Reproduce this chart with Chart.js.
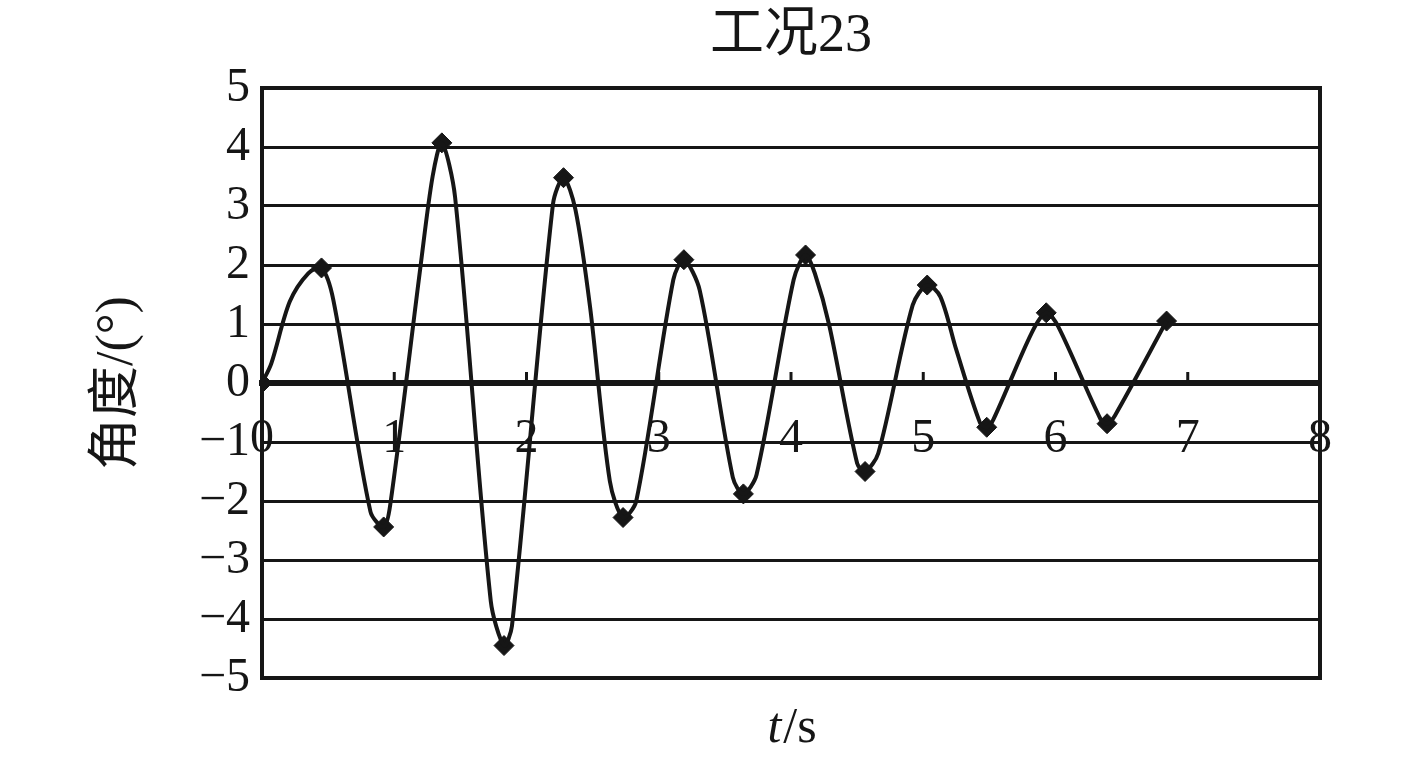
<!DOCTYPE html>
<html>
<head>
<meta charset="utf-8">
<script src="https://cdn.jsdelivr.net/npm/chart.js@4/dist/chart.umd.min.js"></script>
<style>
  html, body { margin: 0; padding: 0; background: #fff; }
</style>
</head>
<body>
<canvas id="chart" width="1417" height="766"></canvas>
<script>
// 时间 (s) 与角度 (°)
const timeS = [0, 0.07, 0.21, 0.35, 0.45, 0.54, 0.82, 0.92, 0.97, 1.2, 1.29, 1.36, 1.46, 1.73, 1.83, 1.89,
  2.2, 2.28, 2.37, 2.48, 2.63, 2.73, 2.83, 3.11, 3.19, 3.31, 3.56, 3.64, 3.74, 4.02, 4.11, 4.18, 4.29,
  4.5, 4.56, 4.66, 4.92, 5.03, 5.13, 5.25, 5.43, 5.48, 5.53, 5.82, 5.93, 6.02, 6.34, 6.39, 6.45, 6.84];
const angle = [0, 0.33, 1.38, 1.86, 1.95, 1.4, -2.18, -2.44, -2.06, 2.0, 3.5, 4.07, 3.15, -3.7, -4.45, -4.12,
  3.03, 3.48, 2.94, 1.3, -1.66, -2.28, -2.0, 1.75, 2.09, 1.57, -1.6, -1.88, -1.55, 1.75, 2.17, 1.86, 0.97,
  -1.36, -1.5, -1.19, 1.32, 1.66, 1.46, 0.56, -0.68, -0.75, -0.62, 0.85, 1.19, 0.96, -0.61, -0.69, -0.55, 1.05];

// 峰值点（菱形标记）
const peakTime = [0, 0.45, 0.92, 1.36, 1.83, 2.28, 2.73, 3.19, 3.64, 4.11, 4.56, 5.03, 5.48, 5.93, 6.39, 6.84];
const peakAngle = [0, 1.95, -2.44, 4.07, -4.45, 3.48, -2.28, 2.09, -1.88, 2.17, -1.5, 1.66, -0.75, 1.19, -0.69, 1.05];

const xMin = 0, xMax = 8;
const yMin = -5, yMax = 5;

const ink = '#161616';
const serif = "'Liberation Serif', 'Noto Sans CJK SC', serif";

const toPoints = (xs, ys) => xs.map((x, i) => ({ x: x, y: ys[i] }));

// 外框、x 轴向内刻度、x 轴标题 t/s
const extras = {
  id: 'extras',
  beforeDatasetsDraw(chart) {
    const { ctx, chartArea, scales } = chart;
    ctx.save();
    ctx.strokeStyle = ink;
    ctx.lineWidth = 4;
    ctx.strokeRect(chartArea.left, chartArea.top, chartArea.right - chartArea.left, chartArea.bottom - chartArea.top);
    const y0 = scales.y.getPixelForValue(0);
    ctx.lineWidth = 3;
    for (let v = xMin + 1; v < xMax; v++) {
      const px = scales.x.getPixelForValue(v);
      ctx.beginPath();
      ctx.moveTo(px, y0);
      ctx.lineTo(px, y0 - 11);
      ctx.stroke();
    }
    ctx.restore();
  },
  afterDraw(chart) {
    const { ctx, chartArea } = chart;
    ctx.save();
    ctx.fillStyle = ink;
    ctx.textBaseline = 'alphabetic';
    const it = 'italic 50px ' + serif;
    const rm = '50px ' + serif;
    ctx.font = it;
    const wt = ctx.measureText('t').width;
    ctx.font = rm;
    const ws = ctx.measureText('/s').width;
    const cx = (chartArea.left + chartArea.right) / 2;
    let x = cx - (wt + ws) / 2;
    ctx.font = it;
    ctx.fillText('t', x, 742);
    ctx.font = rm;
    ctx.fillText('/s', x + wt + 2, 742);
    ctx.restore();
  }
};

new Chart(document.getElementById('chart'), {
  type: 'line',
  data: {
    datasets: [
      {
        data: toPoints(timeS, angle),
        borderColor: ink,
        borderWidth: 4,
        pointRadius: 0,
        tension: 0.3,
        fill: false
      },
      {
        data: toPoints(peakTime, peakAngle),
        showLine: false,
        pointStyle: 'rectRot',
        pointRadius: 10,
        backgroundColor: ink,
        borderColor: ink,
        borderWidth: 1
      }
    ]
  },
  options: {
    responsive: false,
    animation: false,
    layout: { padding: { left: 0, right: 97, top: 0, bottom: 88 } },
    plugins: {
      legend: { display: false },
      tooltip: { enabled: false },
      title: {
        display: true,
        text: '工况23',
        fullSize: false,
        color: ink,
        font: { family: serif, size: 54, weight: 'normal' },
        padding: { top: 4, bottom: 19.2 }
      }
    },
    scales: {
      x: {
        type: 'linear',
        position: { y: 0 },
        min: xMin,
        max: xMax,
        ticks: {
          stepSize: 1,
          padding: 28,
          color: ink,
          maxRotation: 0,
          autoSkip: false,
          font: { family: serif, size: 48 }
        },
        grid: { drawOnChartArea: false, drawTicks: false },
        border: { color: ink, width: 6 }
      },
      y: {
        type: 'linear',
        position: 'left',
        min: yMin,
        max: yMax,
        afterFit: (s) => { s.width = 262; },
        ticks: {
          stepSize: 1,
          padding: 12,
          autoSkip: false,
          color: ink,
          font: { family: serif, size: 48 },
          callback: (v) => (v < 0 ? '\u2212' + Math.abs(v) : String(v))
        },
        grid: { color: ink, lineWidth: 3, drawTicks: false },
        border: { color: ink, width: 4 },
        title: {
          display: true,
          text: '角度/(°)',
          color: ink,
          font: { family: serif, size: 52 },
          padding: { top: 87, bottom: 0 }
        }
      }
    }
  },
  plugins: [extras]
});
</script>
</body>
</html>
